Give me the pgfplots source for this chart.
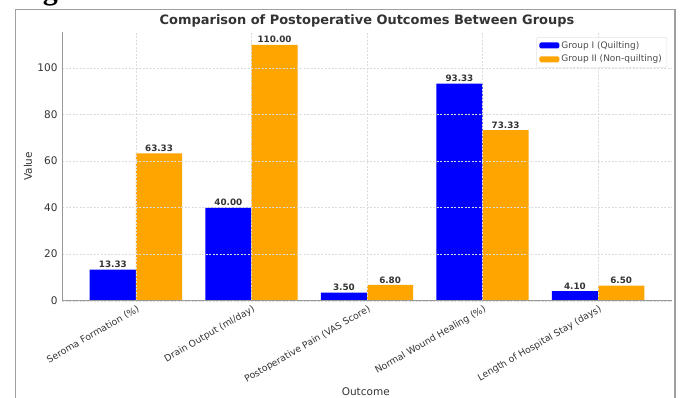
\documentclass[border=0pt]{standalone}
\usepackage{fontspec}
\setmainfont{DejaVu Sans}
\newfontfamily\serifb{Liberation Serif}
\usepackage{pgfplots}
\pgfplotsset{compat=1.18}
\definecolor{gblue}{HTML}{0000FF}
\definecolor{gorange}{HTML}{FFA500}
\definecolor{txt}{HTML}{333333}
\begin{document}
\begin{tikzpicture}
\path[use as bounding box] (0,0) rectangle (681bp,-398bp);
\draw[gray!75, line width=1.3bp] (15.5bp,-420bp) -- (15.5bp,-9.5bp) -- (675bp,-9.5bp) -- (675bp,-420bp);
\node[anchor=base west, inner sep=0pt, font=\serifb\bfseries\fontsize{30bp}{30bp}\selectfont] at (16bp,0.5bp) {Fig};
\begin{axis}[
  at={(62bp,-300.7bp)}, anchor=south west,
  scale only axis, width=610bp, height=268.7bp,
  xmin=-0.64, xmax=4.64, ymin=0, ymax=115.5,
  axis lines*=left,
  axis line style={gray!80, line width=0.9bp},
  axis on top,
  ybar, bar width=0.4,
  xtick={0,1,2,3,4},
  xticklabels={Seroma Formation (\%), Drain Output (ml/day), Postoperative Pain (VAS Score), Normal Wound Healing (\%), Length of Hospital Stay (days)},
  ytick={0,20,40,60,80,100},
  major tick length=0pt,
  grid=major,
  major grid style={gray!28, line width=0.4bp, dash pattern=on 2bp off 1.5bp},
  /pgf/number format/assume math mode=true,
  tick label style={font=\fontsize{10.5bp}{12bp}\selectfont, text=txt},
  x tick label style={font=\fontsize{9.3bp}{11bp}\selectfont, rotate=30, anchor=north east, inner sep=1.5bp, yshift=-2bp},
  yticklabel style={xshift=-1bp},
  every axis title shift=0pt,
  title={\bfseries Comparison of Postoperative Outcomes Between Groups},
  title style={at={(axis description cs:0.5,1.041)}, anchor=center, font=\fontsize{12.95bp}{14bp}\selectfont, text=txt},
  ylabel={Value},
  y label style={at={(axis description cs:-0.0557,0.5)}, anchor=center, font=\fontsize{10.5bp}{12bp}\selectfont, text=txt},
  xlabel={Outcome},
  x label style={at={(axis description cs:0.498,-0.34)}, anchor=center, font=\fontsize{10.5bp}{12bp}\selectfont, text=txt},
  nodes near coords={\pgfmathprintnumber[fixed, fixed zerofill, precision=2]{\pgfplotspointmeta}},
  nodes near coords style={font=\bfseries\fontsize{8.8bp}{10bp}\selectfont, text=txt, inner sep=1.5bp, /pgf/number format/assume math mode=true},
  legend style={at={(axis description cs:0.9918,0.981)}, anchor=north east, draw=gray!20, font=\fontsize{9bp}{11bp}\selectfont, text=black!70, row sep=1.5bp, inner xsep=3bp, inner ysep=2bp, rounded corners=1.5bp},
  legend cell align=left,
  legend image code/.code={\fill[#1] (0bp,-3bp) rectangle (20bp,3bp);},
]
\addplot[fill=gblue, draw=none, bar shift=-0.2] coordinates {(0,13.33) (1,40.00) (2,3.50) (3,93.33) (4,4.10)};
\addplot[fill=gorange, draw=none, bar shift=0.2] coordinates {(0,63.33) (1,110.00) (2,6.80) (3,73.33) (4,6.50)};
\legend{Group I (Quilting), Group II (Non-quilting)}
\end{axis}
\end{tikzpicture}
\end{document}
